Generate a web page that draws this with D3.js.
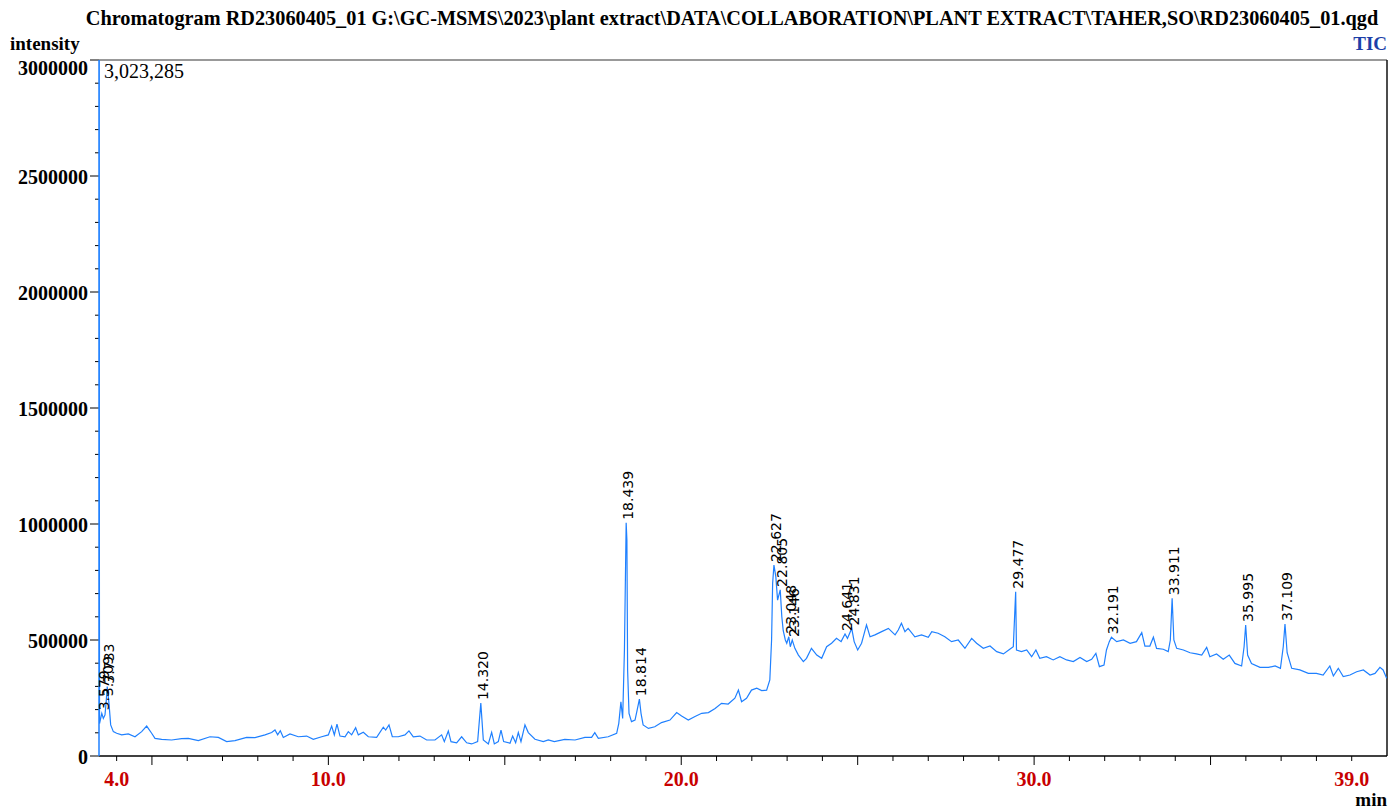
<!DOCTYPE html>
<head>
    <meta charset="utf-8" />
    <script src="https://d3js.org/d3.v7.min.js"></script>
    <style>
        body { margin: 0; background: #fff; }
        text { font-family: "Liberation Serif", "Times New Roman", serif; }
        .peak { font-family: "DejaVu Sans", sans-serif; font-size: 14px; }
    </style>
</head>
<body>
<script>
// retention time (min) and TIC intensity
var times = [3.50, 3.515, 3.579, 3.623, 3.670, 3.709, 3.733, 3.783, 3.831, 3.906, 4.001, 4.142, 4.331, 4.520, 4.709, 4.851, 4.992, 5.087, 5.276, 5.559,
    5.843, 6.031, 6.315, 6.645, 6.882, 7.118, 7.354, 7.684, 7.921, 8.204, 8.393, 8.487, 8.563, 8.638, 8.723, 8.912, 9.148, 9.385, 9.573, 9.810,
    9.999, 10.093, 10.169, 10.244, 10.329, 10.471, 10.565, 10.660, 10.773, 10.849, 10.990, 11.132, 11.368, 11.557, 11.623, 11.718, 11.812, 11.982, 12.171, 12.284,
    12.407, 12.596, 12.785, 13.021, 13.210, 13.286, 13.399, 13.475, 13.635, 13.777, 13.919, 14.060, 14.230, 14.320, 14.391, 14.533, 14.627, 14.703, 14.816, 14.892,
    14.967, 15.147, 15.222, 15.307, 15.383, 15.458, 15.571, 15.666, 15.855, 16.091, 16.233, 16.403,
    16.70, 16.99, 17.27, 17.46, 17.55, 17.65, 17.93, 18.17, 18.23, 18.29, 18.34, 18.39, 18.439, 18.46, 18.48, 18.52, 18.59, 18.69, 18.75, 18.814,
    18.86, 18.92, 19.07, 19.25, 19.44, 19.68, 19.87, 20.01, 20.20, 20.39, 20.58, 20.77, 20.96, 21.14, 21.33, 21.52, 21.62, 21.71, 21.85, 21.99,
    22.14, 22.28, 22.42, 22.51, 22.56, 22.59, 22.627, 22.68, 22.73, 22.805, 22.85, 22.89, 22.95, 22.99, 23.048, 23.09, 23.146, 23.22, 23.32, 23.46,
    23.55, 23.69, 23.84, 23.98, 24.12, 24.26, 24.40, 24.53, 24.641, 24.71, 24.831, 24.90, 25.00, 25.11, 25.25, 25.35, 25.49, 25.68, 25.87, 26.06,
    26.15, 26.24, 26.34, 26.43, 26.62, 26.81, 27.00, 27.10, 27.28, 27.47, 27.66, 27.85,
    28.04, 28.23, 28.37, 28.56, 28.75, 28.94, 29.13, 29.31, 29.41, 29.477, 29.50, 29.64, 29.79, 29.93, 30.05, 30.16, 30.35, 30.54, 30.73, 30.92,
    31.11, 31.30, 31.49, 31.63, 31.75, 31.85, 31.98, 32.05, 32.13, 32.191, 32.34, 32.53, 32.72, 32.90, 33.05, 33.14, 33.28, 33.38, 33.47, 33.66,
    33.80, 33.86, 33.911, 33.96, 34.04, 34.23, 34.42, 34.60, 34.75, 34.89, 34.98, 35.17, 35.36, 35.53, 35.69, 35.88, 35.95, 35.995, 36.05, 36.16,
    36.40, 36.64, 36.83, 36.98, 37.06, 37.109, 37.17, 37.30, 37.53, 37.77, 38.00, 38.19, 38.38, 38.48, 38.62, 38.76, 38.95, 39.14, 39.33, 39.52,
    39.66, 39.80, 39.89, 39.99];

var intensities = [3023285, 140000, 184000, 162000, 177000, 245000, 299000, 227000, 134000, 105000, 98000, 91000, 95000, 83000, 105000, 129000, 98000, 76000, 72000, 69000,
    75000, 76000, 66000, 83000, 80000, 62000, 66000, 80000, 79000, 91000, 101000, 112000, 91000, 109000, 80000, 95000, 83000, 86000, 72000, 83000,
    91000, 129000, 91000, 137000, 86000, 83000, 105000, 91000, 122000, 91000, 102000, 83000, 80000, 124000, 112000, 134000, 83000, 83000, 91000, 108000,
    83000, 86000, 69000, 69000, 91000, 62000, 108000, 62000, 57000, 83000, 57000, 52000, 62000, 228000, 69000, 52000, 102000, 52000, 62000, 112000,
    62000, 55000, 86000, 57000, 101000, 62000, 134000, 101000, 72000, 62000, 69000, 62000,
    72000, 69000, 80000, 80000, 101000, 76000, 83000, 98000, 141000, 234000, 162000, 457000, 1005000, 931000, 371000, 184000, 148000, 155000, 198000, 245000,
    184000, 134000, 119000, 126000, 144000, 155000, 187000, 172000, 155000, 170000, 184000, 187000, 205000, 227000, 224000, 249000, 284000, 234000, 249000, 284000,
    292000, 282000, 284000, 328000, 500000, 744000, 823000, 773000, 672000, 716000, 600000, 540000, 500000, 486000, 514000, 471000, 500000, 464000, 435000, 407000,
    421000, 464000, 435000, 421000, 471000, 486000, 507000, 493000, 526000, 507000, 550000, 493000, 457000, 486000, 565000, 514000, 522000, 536000, 550000, 522000,
    543000, 572000, 536000, 550000, 514000, 522000, 512000, 536000, 529000, 514000, 493000, 500000,
    464000, 507000, 486000, 464000, 474000, 450000, 440000, 460000, 471000, 708000, 457000, 450000, 457000, 428000, 457000, 421000, 428000, 414000, 428000, 414000,
    407000, 425000, 407000, 417000, 442000, 385000, 392000, 457000, 493000, 512000, 493000, 500000, 486000, 493000, 532000, 474000, 474000, 512000, 464000, 460000,
    450000, 500000, 680000, 500000, 464000, 457000, 445000, 440000, 435000, 468000, 428000, 440000, 417000, 435000, 399000, 388000, 471000, 565000, 435000, 399000,
    382000, 382000, 388000, 378000, 471000, 569000, 445000, 378000, 371000, 356000, 356000, 349000, 388000, 345000, 378000, 342000, 349000, 363000, 371000, 349000,
    356000, 382000, 371000, 335000];

// labelled peaks
var peakLabels = ["3.579", "3.709", "3.733", "14.320", "18.439", "18.814", "22.627", "22.805", "23.048", "23.146",
    "24.641", "24.831", "29.477", "32.191", "33.911", "35.995", "37.109"];

var xTickLabels = [4, 10, 20, 30, 39];
var yTickLabels = [0, 500000, 1000000, 1500000, 2000000, 2500000, 3000000];
var maxLabel = "3,023,285";
var title = "Chromatogram RD23060405_01 G:\\GC-MSMS\\2023\\plant extract\\DATA\\COLLABORATION\\PLANT EXTRACT\\TAHER,SO\\RD23060405_01.qgd";

var width = 1394, height = 809;
var plotLeft = 99, plotRight = 1387, plotTop = 60, plotBottom = 756;
var blue = "#1f80ff";

var svg = d3.select("body").append("svg")
    .attr("width", width)
    .attr("height", height);

var x = d3.scaleLinear().domain([3.5, 40.0]).range([plotLeft, plotRight]);
var y = d3.scaleLinear().domain([0, 3000000]).range([plotBottom, plotTop]);

var data = times.map(function(t, i) { return { t: t, v: intensities[i] }; });

// titre et etiquettes
svg.append("text")
    .attr("x", 732).attr("y", 25)
    .attr("text-anchor", "middle")
    .style("font-size", "20.3px").style("font-weight", "bold")
    .text(title);

svg.append("text")
    .attr("x", 10).attr("y", 50)
    .style("font-size", "19px").style("font-weight", "bold")
    .text("intensity");

svg.append("text")
    .attr("x", plotRight).attr("y", 50)
    .attr("text-anchor", "end")
    .style("font-size", "19px").style("font-weight", "bold")
    .style("fill", "#1c3fa8")
    .text("TIC");

svg.append("text")
    .attr("x", plotRight).attr("y", 806)
    .attr("text-anchor", "end")
    .style("font-size", "19px").style("font-weight", "bold")
    .text("min");

// cadre
svg.append("line")
    .attr("x1", plotLeft).attr("x2", plotRight).attr("y1", plotTop).attr("y2", plotTop)
    .attr("stroke", "#777").attr("stroke-width", 1.5);
svg.append("line")
    .attr("x1", plotRight).attr("x2", plotRight).attr("y1", plotTop).attr("y2", plotBottom)
    .attr("stroke", "#111").attr("stroke-width", 1.5);

// axe x : graduation chaque minute, longue tous les 5
var xAxis = svg.append("g").attr("transform", "translate(0," + plotBottom + ")");
xAxis.append("line")
    .attr("x1", plotLeft).attr("x2", plotRight)
    .attr("stroke", "#000").attr("stroke-width", 1.5);
xAxis.selectAll(".xt")
    .data(d3.range(4, 40))
    .join("line")
    .attr("x1", function(d) { return x(d); })
    .attr("x2", function(d) { return x(d); })
    .attr("y1", 0)
    .attr("y2", function(d) { return d % 5 == 0 ? 9 : 5; })
    .attr("stroke", "#000");
xAxis.selectAll(".xl")
    .data(xTickLabels)
    .join("text")
    .attr("x", function(d) { return x(d); })
    .attr("y", 30)
    .attr("text-anchor", "middle")
    .style("font-size", "20px").style("font-weight", "bold")
    .style("fill", "#c80000")
    .text(function(d) { return d.toFixed(1); });

// axe y : graduation tous les 100000
var yAxis = svg.append("g").attr("transform", "translate(" + plotLeft + ",0)");
yAxis.selectAll(".yt")
    .data(d3.range(0, 3000001, 100000))
    .join("line")
    .attr("x1", function(d) { return d % 500000 == 0 ? -9 : -4; })
    .attr("x2", 0)
    .attr("y1", function(d) { return y(d); })
    .attr("y2", function(d) { return y(d); })
    .attr("stroke", "#000");
yAxis.append("line")
    .attr("y1", plotTop).attr("y2", plotBottom)
    .attr("stroke", blue).attr("stroke-width", 1.5);
yAxis.selectAll(".yl")
    .data(yTickLabels)
    .join("text")
    .attr("x", -11)
    .attr("y", function(d) { return y(d) + (d == 3000000 ? 8 : 1); })
    .attr("dy", "0.35em")
    .attr("text-anchor", "end")
    .style("font-size", "20px").style("font-weight", "bold")
    .text(function(d) { return d; });

svg.append("text")
    .attr("x", plotLeft + 5).attr("y", 78)
    .style("font-size", "20px")
    .text(maxLabel);

// trace
svg.append("clipPath").attr("id", "plot")
    .append("rect")
    .attr("x", plotLeft).attr("y", plotTop)
    .attr("width", plotRight - plotLeft).attr("height", plotBottom - plotTop);

var line = d3.line()
    .x(function(d) { return x(d.t); })
    .y(function(d) { return y(d.v); });

svg.append("path")
    .datum(data)
    .attr("clip-path", "url(#plot)")
    .attr("d", line)
    .attr("fill", "none")
    .attr("stroke", blue)
    .attr("stroke-width", 1.2);

// etiquettes des pics
function peakValue(t) {
    var best = data[0];
    data.forEach(function(d) { if (Math.abs(d.t - t) < Math.abs(best.t - t)) best = d; });
    return best.v;
}

svg.selectAll(".peak")
    .data(peakLabels)
    .join("text")
    .attr("class", "peak")
    .attr("transform", function(d) {
        var t = +d;
        return "translate(" + (x(t) + 7) + "," + (y(peakValue(t)) - 3) + ") rotate(-90)";
    })
    .text(function(d) { return d; });
</script>
</body>
